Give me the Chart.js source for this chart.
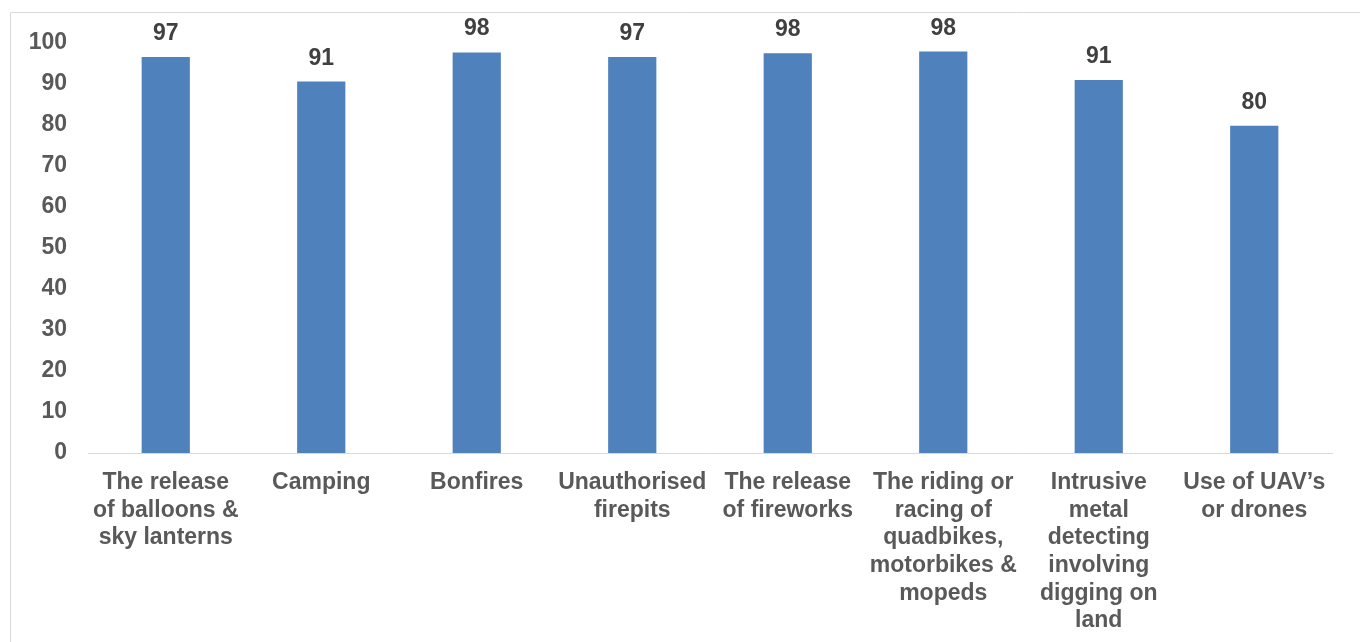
<!DOCTYPE html>
<html>
<head>
<meta charset="utf-8">
<script src="https://cdn.jsdelivr.net/npm/chart.js@4/dist/chart.umd.min.js"></script>
<style>
    html, body { margin: 0; padding: 0; background: #ffffff; }
    #wrap { width: 1360px; height: 642px; position: relative; }
</style>
</head>
<body>
<div id="wrap"><canvas id="activityChart"></canvas></div>
<script>
// Categories (multi-line, as wrapped in the original)
const categories = [
    ['The release', 'of balloons &', 'sky lanterns'],
    ['Camping'],
    ['Bonfires'],
    ['Unauthorised', 'firepits'],
    ['The release', 'of fireworks'],
    ['The riding or', 'racing of', 'quadbikes,', 'motorbikes &', 'mopeds'],
    ['Intrusive', 'metal', 'detecting', 'involving', 'digging on', 'land'],
    ['Use of UAV\u2019s', 'or drones']
];

// Percentages
const percentValues = [96.6, 90.6, 97.7, 96.6, 97.5, 97.9, 91.0, 79.8];

// Y axis ticks
const yMin = 0;
const yMax = 100;
const yStep = 10;

const fontFamily = '"Liberation Sans", Arial, sans-serif';

// Light grey frame round the whole chart
const framePlugin = {
    id: 'frame',
    beforeDraw(chart) {
        const ctx = chart.ctx;
        ctx.save();
        ctx.strokeStyle = '#d9d9d9';
        ctx.lineWidth = 1;
        ctx.beginPath();
        ctx.moveTo(10.5, chart.height + 5);
        ctx.lineTo(10.5, 12.5);
        ctx.lineTo(chart.width + 5, 12.5);
        ctx.stroke();
        ctx.restore();
    }
};

// Value labels above each bar
const valueLabels = {
    id: 'valueLabels',
    afterDatasetsDraw(chart) {
        const ctx = chart.ctx;
        const meta = chart.getDatasetMeta(0);
        ctx.save();
        ctx.font = 'bold 23px ' + fontFamily;
        ctx.fillStyle = '#404040';
        ctx.textAlign = 'center';
        ctx.textBaseline = 'alphabetic';
        meta.data.forEach((bar, i) => {
            ctx.fillText(String(Math.round(percentValues[i])), bar.x, bar.y - 17);
        });
        ctx.restore();
    }
};

const ctx = document.getElementById('activityChart').getContext('2d');
new Chart(ctx, {
    type: 'bar',
    data: {
        labels: categories,
        datasets: [{
            data: percentValues,
            backgroundColor: '#4f81bd',
            borderWidth: 0,
            categoryPercentage: 1.0,
            barPercentage: 0.31
        }]
    },
    options: {
        responsive: true,
        maintainAspectRatio: false,
        animation: false,
        devicePixelRatio: 1,
        layout: {
            padding: { top: 43, left: 0, right: 28, bottom: 0 }
        },
        plugins: {
            legend: { display: false },
            tooltip: { enabled: false }
        },
        scales: {
            x: {
                grid: { display: true, color: 'transparent', drawTicks: false },
                border: { display: true, color: '#d9d9d9', width: 1 },
                ticks: {
                    color: '#595959',
                    font: { family: fontFamily, size: 23, weight: 'bold', lineHeight: 1.2 },
                    padding: 16,
                    maxRotation: 0,
                    minRotation: 0,
                    autoSkip: false
                },
                afterFit(scale) { scale.height = 189; }
            },
            y: {
                min: yMin,
                max: yMax,
                grid: { display: false, drawTicks: false },
                border: { display: false },
                ticks: {
                    stepSize: yStep,
                    color: '#595959',
                    font: { family: fontFamily, size: 23, weight: 'bold' },
                    padding: 21
                },
                afterFit(scale) { scale.width = 88; }
            }
        }
    },
    plugins: [framePlugin, valueLabels]
});
</script>
</body>
</html>
